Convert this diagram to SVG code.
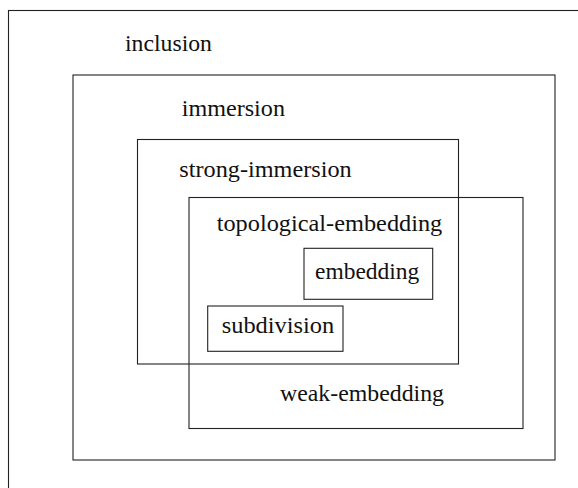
<svg xmlns="http://www.w3.org/2000/svg" width="578" height="488" viewBox="0 0 578 488">
<style>
rect{fill:none;stroke:#222;stroke-width:1.1}
text{font-size:23px;fill:#111}
</style>
<rect x="0" y="0" width="578" height="488" style="fill:#fff;stroke:none"/>
<g font-family="'Liberation Serif', 'DejaVu Serif', 'Times New Roman', serif">
<g id="inclusion"><rect x="8.5" y="10.5" width="600" height="500"/><text x="125" y="51" textLength="87" lengthAdjust="spacingAndGlyphs">inclusion</text></g>
<g id="immersion"><rect x="73" y="75" width="482" height="385"/><text x="181.7" y="116" textLength="103.3" lengthAdjust="spacingAndGlyphs">immersion</text></g>
<g id="strong-immersion"><rect x="137.5" y="139.5" width="321" height="224.5"/><text x="179.3" y="176.7" textLength="172.4" lengthAdjust="spacingAndGlyphs">strong-immersion</text></g>
<g id="weak-embedding"><rect x="189" y="197.5" width="334" height="231"/><text x="280" y="401" textLength="164" lengthAdjust="spacingAndGlyphs">weak-embedding</text></g>
<g id="topological-embedding"><text x="216.7" y="230.7" textLength="225.6" lengthAdjust="spacingAndGlyphs">topological-embedding</text></g>
<g id="embedding"><rect x="304" y="248.3" width="128.7" height="51"/><text x="315" y="279.3" textLength="104.3" lengthAdjust="spacingAndGlyphs">embedding</text></g>
<g id="subdivision"><rect x="207.7" y="306" width="135.3" height="45.3"/><text x="221.7" y="333.3" textLength="112.6" lengthAdjust="spacingAndGlyphs">subdivision</text></g>
</g>
<g id="connectors"/>
</svg>
